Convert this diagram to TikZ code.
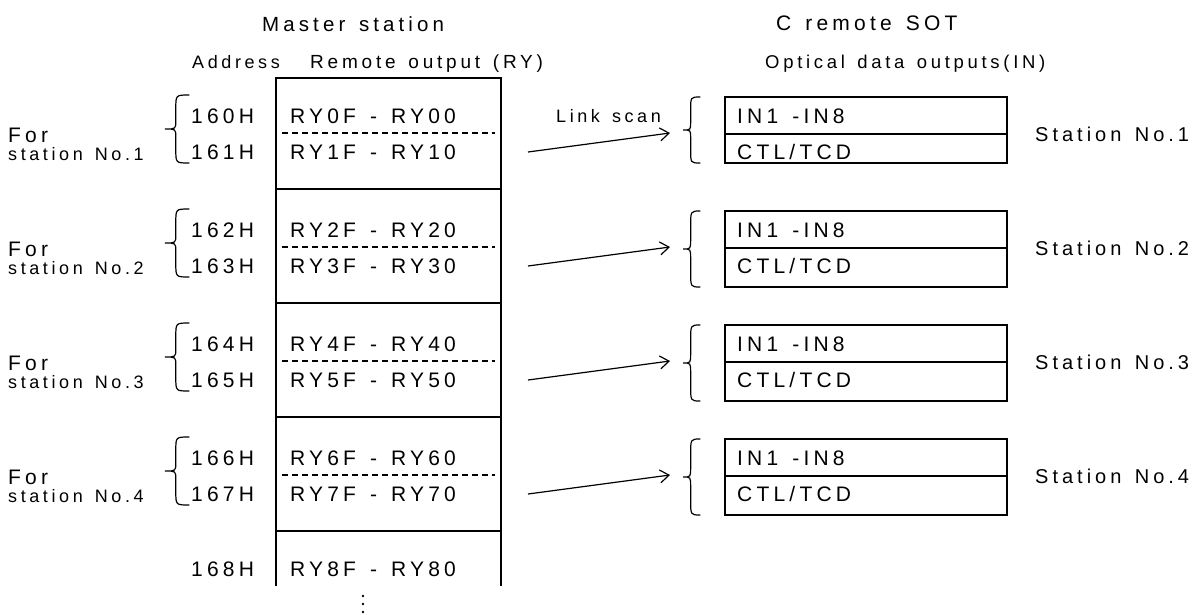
\documentclass[tikz,border=0pt]{standalone}
\usepackage{fontspec}
\setmainfont{Liberation Sans}[LetterSpace=20,WordSpace=1.4]
\usetikzlibrary{arrows.meta}
\tikzset{
  txt/.style={inner sep=0pt, anchor=base west, font=\fontsize{21}{25}\selectfont},
  txtst/.style={inner sep=0pt, anchor=base west, font=\fontsize{20}{24}\selectfont},
  txtm/.style={inner sep=0pt, anchor=base west, font=\fontsize{19}{23}\selectfont},
  txts/.style={inner sep=0pt, anchor=base west, font=\fontsize{18}{22}\selectfont},
  boxln/.style={line width=1.8pt},
  dashln/.style={line width=1.2pt, dash pattern=on 6pt off 4pt},
  arrln/.style={line width=1.2pt, -{Straight Barb[length=9pt,width=13pt]}},
  brc/.style={line width=1.2pt, line cap=round},
  dotfill/.style={fill=black, draw=none}
}
% brace "{": #1 x of arm ends, #2 x of tip, #3 y top, #4 y bottom
\newcommand{\mybrace}[4]{%
  \pgfmathsetmacro\brXe{#1}%
  \pgfmathsetmacro\brXt{#2}%
  \pgfmathsetmacro\brT{#3}%
  \pgfmathsetmacro\brB{#4}%
  \pgfmathsetmacro\brXs{\brXt+0.45*(\brXe-\brXt)}%
  \pgfmathsetmacro\brH{\brB-\brT}%
  \pgfmathsetmacro\brYm{(\brT+\brB)/2}%
  \pgfmathsetmacro\brYa{\brT+0.2*\brH}%
  \pgfmathsetmacro\brYb{\brYm-0.12*\brH}%
  \pgfmathsetmacro\brYc{\brYm+0.12*\brH}%
  \pgfmathsetmacro\brYd{\brB-0.2*\brH}%
  \draw[brc] (\brXe,\brT) .. controls (\brXs,\brT) .. (\brXs,\brYa)
    -- (\brXs,\brYb) .. controls (\brXs,\brYm) .. (\brXt,\brYm)
    .. controls (\brXs,\brYm) .. (\brXs,\brYc)
    -- (\brXs,\brYd) .. controls (\brXs,\brB) .. (\brXe,\brB);
}
\begin{document}
\begin{tikzpicture}[x=1pt,y=-1pt]
\useasboundingbox (0,0) rectangle (1200,614);

% headers
\node[txt, font=\fontsize{20.5}{24}\selectfont] (hmaster) at (262,31.5) {Master station};
\node[txts] (haddr)   at (192,68) {Address};
\node[txtm] (hry)     at (310,68) {Remote output (RY)};
\node[txt]  (hsot)    at (776,30.5) {C remote SOT};
\node[txt, font=\fontsize{18.5}{22}\selectfont] (hin) at (765,68) {Optical data outputs(IN)};

% master box
\draw[boxln] (276,586) -- (276,78) -- (501,78) -- (501,586);
\foreach \k in {0,1,2,3}{
  \draw[boxln] (276,189+114*\k) -- (501,189+114*\k);
  \draw[dashln] (282,133+114*\k) -- (495,133+114*\k);
}

\foreach \k/\aa/\ab/\ra/\rb/\n in {0/160H/161H/RY0F - RY00/RY1F - RY10/1,
                                   1/162H/163H/RY2F - RY20/RY3F - RY30/2,
                                   2/164H/165H/RY4F - RY40/RY5F - RY50/3,
                                   3/166H/167H/RY6F - RY60/RY7F - RY70/4}{
  \node[txt]  (for\n)  at (8,142.7+114*\k) {For};
  \node[txts] (stl\n)  at (8,160.5+114*\k) {station No.\n};
  \mybrace{189}{165}{95+114*\k}{163+114*\k}
  \node[txt] (adra\n) at (191,123+114*\k) {\aa};
  \node[txt] (adrb\n) at (191,159.5+114*\k) {\ab};
  \node[txt] (rya\n)  at (290,123+114*\k) {\ra};
  \node[txt] (ryb\n)  at (290,159.5+114*\k) {\rb};
  % arrow
  \coordinate (as\n) at (528,152+114*\k);
  \coordinate (ae\n) at (670,133+114*\k);
  \draw[arrln] (as\n) -- (ae\n);
  % station box texts
  \node[txt] (ina\n) at (737,123+114*\k) {IN1 -IN8};
  \node[txt] (inb\n) at (737,159.5+114*\k) {CTL/TCD};
  \node[txtst] (stn\n) at (1035,141.5+114*\k) {Station No.\n};
}

% station boxes
\draw[boxln] (725,97) rectangle (1007,163);
\draw[boxln] (725,134) -- (1007,134);
\mybrace{700}{683}{97}{163}
\foreach \k in {1,2,3}{
  \draw[boxln] (725,97+114*\k) rectangle (1007,173+114*\k);
  \draw[boxln] (725,134+114*\k) -- (1007,134+114*\k);
  \mybrace{700}{683}{97+114*\k}{173+114*\k}
}

\node[txts] (link) at (556,122) {Link scan};

% last row
\node[txt] (adr8) at (191,576.5) {168H};
\node[txt] (ry8)  at (290,576.5) {RY8F - RY80};

% continuation dots
\fill[dotfill] (363,596) circle (1.3);
\fill[dotfill] (363,604) circle (1.3);
\fill[dotfill] (363,612) circle (1.3);
\end{tikzpicture}
\end{document}
